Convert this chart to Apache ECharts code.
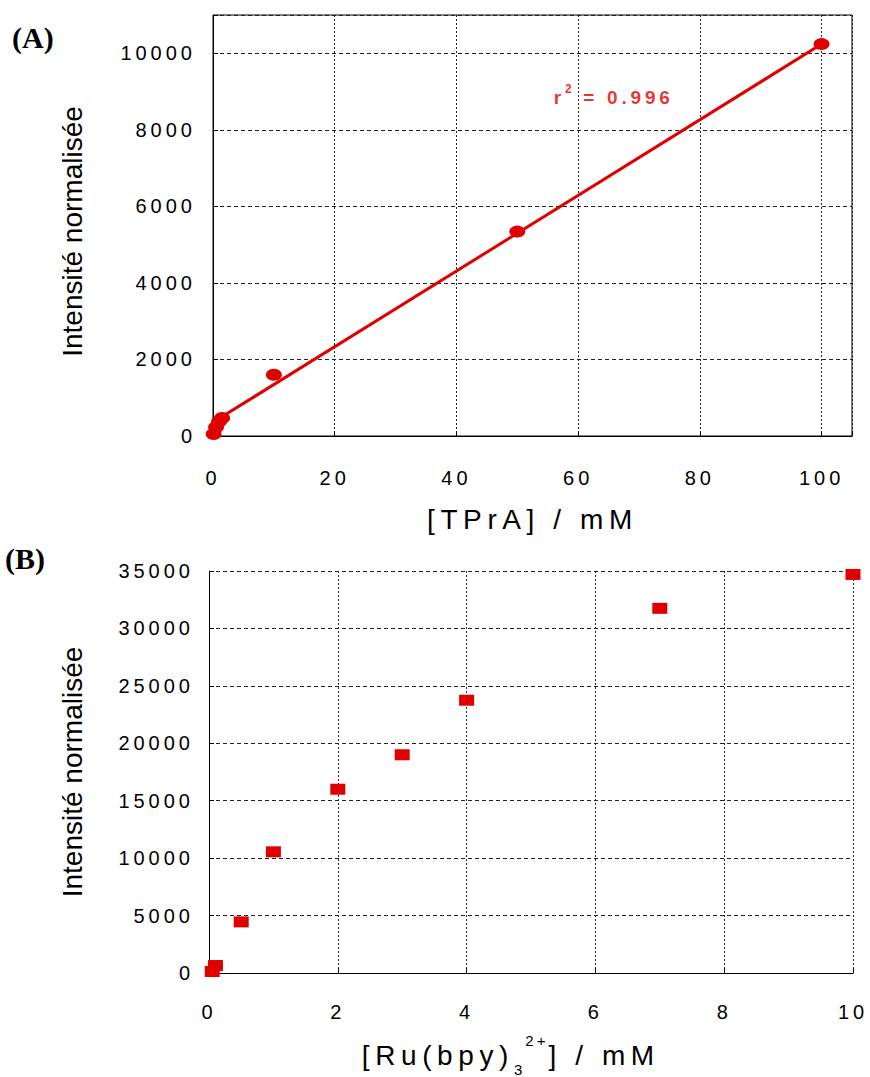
<!DOCTYPE html>
<html lang="fr">
<head>
<meta charset="UTF-8">
<title>Intensité normalisée</title>
<script src="https://cdn.jsdelivr.net/npm/echarts@6/dist/echarts.min.js"></script>
<style>
    html, body { margin: 0; padding: 0; background: #fff; }
    #chart { width: 870px; height: 1077px; }
    /* the tick labels and x titles are letter-spaced in the original */
    #chart text[style*="Arial"] { letter-spacing: 0.2em; }
</style>
</head>
<body>
<div id="chart"></div>

<script>
    // (A) intensité vs [TPrA]
    const tpraX = [0.1, 0.5, 1, 1.5, 10, 50, 100];
    const tpraY = [50, 230, 380, 470, 1600, 5340, 10240];
    // droite de régression
    const fitX = [1, 100];
    const fitY = [455, 10240];
    const r2Text = '0.996';
    const r2Pos = [56, 8850];

    // (B) intensité vs [Ru(bpy)3 2+]
    const ruX = [0.05, 0.1, 0.5, 1, 2, 3, 4, 7, 10];
    const ruY = [130, 650, 4450, 10550, 16000, 19000, 23750, 31750, 34700];

    const red = '#df0000';
    const axisFont = 'Arial, "Liberation Sans", sans-serif';
    const plainFont = '"Liberation Sans", sans-serif';
    const LS = 0.2; // em, same as the css rule
    // right padding so rich text pieces leave room for the css letter spacing
    const pad = (n, size) => [0, n * LS * size, 0, 0];

    const zip = (xs, ys) => xs.map((x, i) => [x, ys[i]]);

    function xAxisOf(grid, max, interval, margin, name, nameGap, rich) {
        return {
            gridIndex: grid,
            type: 'value',
            min: 0, max: max, interval: interval,
            axisLine: { show: true, onZero: false, lineStyle: { color: '#000', width: 1 } },
            axisTick: { show: true, inside: true, length: 5, lineStyle: { color: '#000' } },
            splitLine: { show: true, lineStyle: { color: '#222', type: [2, 2], width: 1 } },
            axisLabel: {
                margin: margin, fontSize: 20, fontFamily: axisFont, color: '#000',
                formatter: v => (v % interval === 0 ? String(v) : '')
            },
            name: name,
            nameLocation: 'middle',
            nameGap: nameGap,
            nameMoveOverlap: false,
            nameTextStyle: Object.assign({ fontSize: 28, fontFamily: axisFont, color: '#000' },
                rich ? { rich: rich } : {})
        };
    }

    function yAxisOf(grid, max, interval, margin, nameGap, namePad) {
        return {
            gridIndex: grid,
            type: 'value',
            min: 0, max: max, interval: interval,
            axisLine: { show: true, onZero: false, lineStyle: { color: '#000', width: 1 } },
            axisTick: { show: true, inside: true, length: 5, lineStyle: { color: '#000' } },
            splitLine: { show: true, lineStyle: { color: '#222', type: [4, 3], width: 1 } },
            axisLabel: {
                margin: margin, fontSize: 20, fontFamily: axisFont, color: '#000',
                formatter: v => (v % interval === 0 ? String(v) : '')
            },
            name: 'Intensité normalisée',
            nameLocation: 'middle',
            nameGap: nameGap,
            nameMoveOverlap: false,
            nameTextStyle: { fontSize: 28, fontFamily: plainFont, color: '#000', padding: namePad }
        };
    }

    // tokens must be left aligned, otherwise they get centred and the css spacing spills over
    // the last token gets extra room so the whole title sits a bit left, as in the original
    const ruRich = {
        a: { align: 'left', fontSize: 28, fontFamily: axisFont, color: '#000', lineHeight: 44, padding: pad(8, 28) },
        sub: { align: 'left', fontSize: 15, fontFamily: axisFont, color: '#000', lineHeight: 16, verticalAlign: 'bottom', padding: pad(1, 15) },
        sup: { align: 'left', fontSize: 15, fontFamily: axisFont, color: '#000', lineHeight: 16, verticalAlign: 'top', padding: pad(2, 15) },
        d: { align: 'left', fontSize: 28, fontFamily: axisFont, color: '#000', lineHeight: 44, padding: [0, 74, 0, 0] }
    };

    const chart = echarts.init(document.getElementById('chart'), null, { renderer: 'svg' });
    const option = {
        animation: false,
        backgroundColor: '#fff',
        grid: [
            { left: 213, top: 15, width: 639, height: 421, show: true, borderColor: '#000', borderWidth: 1,
              backgroundColor: 'transparent', outerBoundsMode: 'none' },
            { left: 209, top: 571, width: 644, height: 402, show: false, outerBoundsMode: 'none' }
        ],
        xAxis: [
            xAxisOf(0, 105, 20, 32, '[TPrA] / mM', 69),
            xAxisOf(1, 10, 2, 29, '{a|[Ru(bpy)}{sub|3}{sup|2+}{d|] / mM}', 60, ruRich)
        ],
        yAxis: [
            yAxisOf(0, 11000, 2000, 17, 127, [0, 12, 0, 0]),
            yAxisOf(1, 35000, 5000, 15, 123, 0)
        ],
        graphic: [
            { type: 'text', left: 12, top: 22,
              style: { text: '(A)', font: 'bold 30px "Liberation Serif", serif', fill: '#000' } },
            { type: 'text', left: 5, top: 543,
              style: { text: '(B)', font: 'bold 30px "Liberation Serif", serif', fill: '#000' } }
        ],
        series: [
            {
                type: 'line',
                xAxisIndex: 0, yAxisIndex: 0,
                data: zip(fitX, fitY),
                showSymbol: false,
                lineStyle: { color: red, width: 3 },
                silent: true
            },
            {
                type: 'scatter',
                xAxisIndex: 0, yAxisIndex: 0,
                data: zip(tpraX, tpraY),
                symbol: 'circle',
                symbolSize: [16, 12],
                itemStyle: { color: red, opacity: 1 },
                clip: false
            },
            {
                type: 'scatter',
                xAxisIndex: 0, yAxisIndex: 0,
                data: [r2Pos],
                symbolSize: 0,
                silent: true,
                label: {
                    show: true,
                    position: 'right',
                    distance: 0,
                    formatter: '{r|r}{s|2}{e| = ' + r2Text + '}',
                    rich: {
                        r: { align: 'left', fontSize: 19, fontWeight: 'bold', fontFamily: axisFont, color: red, lineHeight: 28, padding: pad(1, 19) },
                        s: { align: 'left', fontSize: 12, fontWeight: 'bold', fontFamily: axisFont, color: red, lineHeight: 12, verticalAlign: 'top', padding: pad(1, 12) },
                        e: { align: 'left', fontSize: 19, fontWeight: 'bold', fontFamily: axisFont, color: red, lineHeight: 28 }
                    }
                }
            },
            {
                type: 'scatter',
                xAxisIndex: 1, yAxisIndex: 1,
                data: zip(ruX, ruY),
                symbol: 'rect',
                symbolSize: [15, 11],
                itemStyle: { color: red, opacity: 1 },
                clip: false
            }
        ]
    };
    chart.setOption(option);
</script>
</body>
</html>
